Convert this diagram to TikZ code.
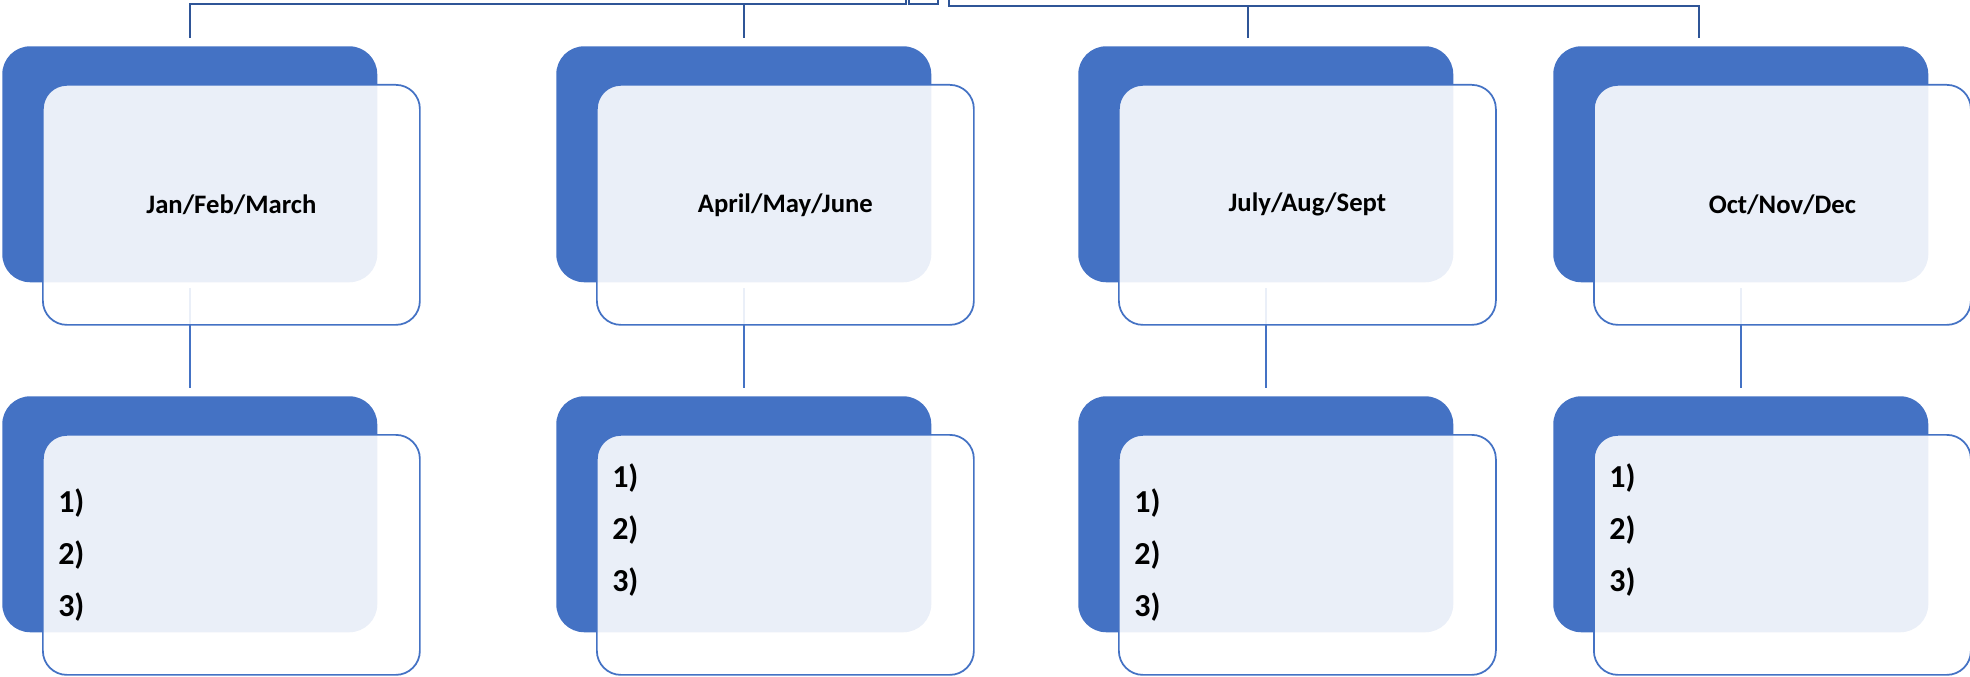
\documentclass[tikz,border=0pt]{standalone}
\usepackage{fontspec}
\setmainfont{Carlito}
\usepackage{xcolor}
\definecolor{tileblue}{HTML}{4472C4}
\definecolor{busblue}{HTML}{2F5597}
\usepackage{tikz}
\usetikzlibrary{positioning, backgrounds}

\begin{document}
\begin{tikzpicture}[x=0.75pt, y=-0.75pt,
	back/.style={rectangle, fill=tileblue, rounded corners=21pt, minimum width=281.25pt,
	             minimum height=177pt, inner sep=0pt, anchor=north west},
	front/.style={rectangle, draw=tileblue, line width=1.3pt, fill=white, fill opacity=0.89,
	              text opacity=1, rounded corners=18pt, minimum width=282.75pt,
	              minimum height=180pt, inner sep=0pt, font=\fontsize{20}{24}\selectfont\bfseries},
	items/.style={align=left, inner sep=0pt, font=\fontsize{24}{39}\selectfont\bfseries},
	bus/.style={draw=busblue, line width=1.5pt},
	link/.style={draw=tileblue, line width=1.8pt, shorten <=4pt, shorten >=6pt}
	]
\useasboundingbox (0,0) rectangle (1970,677);

% quarter tiles, top row
\node[back] (qa1) at (2,46) {};
\node[front, below right=28.5pt and 30pt of qa1.north west] (fa1) {Jan/Feb/March};
\node[back] (qa2) at (556,46) {};
\node[front, below right=28.5pt and 30pt of qa2.north west] (fa2) {April/May/June};
\node[back] (qa3) at (1078,46) {};
\node[front, below right=28.5pt and 30pt of qa3.north west] (fa3) {July/Aug/Sept};
\node[back] (qa4) at (1553,46) {};
\node[front, below right=28.5pt and 30pt of qa4.north west] (fa4) {Oct/Nov/Dec};

% goal lists, bottom row
\node[back] (qb1) at (2,396) {};
\node[front, below right=28.5pt and 30pt of qb1.north west] (fb1) {};
\node[items, right=12pt of fb1.west] (lb1) {1)\\2)\\3)};
\node[back] (qb2) at (556,396) {};
\node[front, below right=28.5pt and 30pt of qb2.north west] (fb2) {};
\node[items, below right=22pt and 12pt of fb2.north west] (lb2) {1)\\2)\\3)};
\node[back] (qb3) at (1078,396) {};
\node[front, below right=28.5pt and 30pt of qb3.north west] (fb3) {};
\node[items, right=12pt of fb3.west] (lb3) {1)\\2)\\3)};
\node[back] (qb4) at (1553,396) {};
\node[front, below right=28.5pt and 30pt of qb4.north west] (fb4) {};
\node[items, below right=22pt and 12pt of fb4.north west] (lb4) {1)\\2)\\3)};

\begin{scope}[on background layer]
% branches coming down from the year
\coordinate (hubL) at (906,0);
\coordinate (hubR) at (949,0);
\draw[bus] (hubL) -- ++(0,4) -| ([yshift=6pt]qa1.north);
\draw[bus] (qa2.north |- 0,4) -- ([yshift=6pt]qa2.north);
\draw[bus] (hubR) -- ++(0,6) -| ([shift={(-31.5pt,6pt)}]qa4.north);
\draw[bus] ([xshift=-13.5pt]qa3.north |- 0,6) -- ([shift={(-13.5pt,6pt)}]qa3.north);
\draw[bus] (909,0) -- (909,4) -- (938,4) -- (938,0);
% quarter to goals
\draw[link] (qa1) -- (qb1);
\draw[link] (qa2) -- (qb2);
\draw[link] (qa3) -- (qb3);
\draw[link] (qa4) -- (qb4);
\end{scope}
\end{tikzpicture}
\end{document}
